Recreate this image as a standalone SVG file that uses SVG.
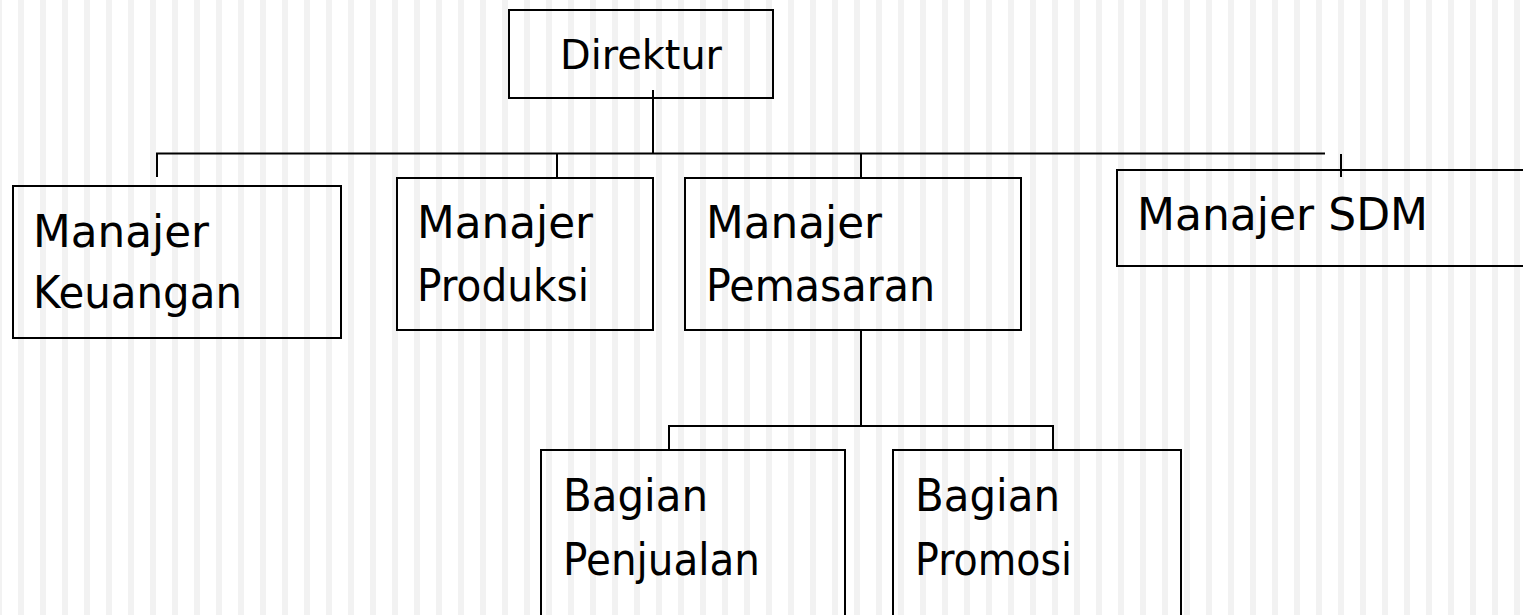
<svg xmlns="http://www.w3.org/2000/svg" width="1523" height="615" viewBox="0 0 1523 615">
<defs>
<pattern id="stripes" x="-4" y="0" width="22" height="615" patternUnits="userSpaceOnUse">
<rect x="0" y="0" width="22" height="615" fill="#ffffff"/>
<rect x="0" y="0" width="6" height="615" fill="#f2f2f2"/>
</pattern>
</defs>
<style>
.box{fill:none;stroke:#000;stroke-width:2}
.lbl{font-family:"DejaVu Sans","Liberation Sans",sans-serif;font-size:44px;fill:#000}
.conn line{stroke:#000;stroke-width:2}
</style>
<rect x="0" y="0" width="1523" height="615" fill="url(#stripes)"/>
<g id="connectors" class="conn">
<line x1="653" y1="90" x2="653" y2="154"/>
<line x1="156" y1="153.5" x2="1325" y2="153.5"/>
<line x1="157" y1="153" x2="157" y2="177"/>
<line x1="557" y1="153" x2="557" y2="178"/>
<line x1="861" y1="153" x2="861" y2="178"/>
<line x1="1341" y1="154" x2="1341" y2="177"/>
<line x1="861" y1="330" x2="861" y2="427"/>
<line x1="668" y1="426" x2="1054" y2="426"/>
<line x1="669" y1="426" x2="669" y2="450"/>
<line x1="1053" y1="426" x2="1053" y2="450"/>
</g>
<g id="direktur">
<rect class="box" x="509" y="10" width="264" height="88"/>
<text class="lbl" x="560" y="69" style="font-size:41px" textLength="162" lengthAdjust="spacingAndGlyphs">Direktur</text>
</g>
<g id="manajer-keuangan">
<rect class="box" x="13" y="186" width="328" height="152"/>
<text class="lbl" x="33" y="247" textLength="176" lengthAdjust="spacingAndGlyphs">Manajer</text>
<text class="lbl" x="33" y="308" textLength="209" lengthAdjust="spacingAndGlyphs">Keuangan</text>
</g>
<g id="manajer-produksi">
<rect class="box" x="397" y="178" width="256" height="152"/>
<text class="lbl" x="417" y="238" textLength="176" lengthAdjust="spacingAndGlyphs">Manajer</text>
<text class="lbl" x="417" y="301" textLength="172" lengthAdjust="spacingAndGlyphs">Produksi</text>
</g>
<g id="manajer-pemasaran">
<rect class="box" x="685" y="178" width="336" height="152"/>
<text class="lbl" x="706" y="238" textLength="176" lengthAdjust="spacingAndGlyphs">Manajer</text>
<text class="lbl" x="706" y="301" textLength="229" lengthAdjust="spacingAndGlyphs">Pemasaran</text>
</g>
<g id="manajer-sdm">
<rect class="box" x="1117" y="170" width="420" height="96"/>
<text class="lbl" x="1137" y="230" textLength="291" lengthAdjust="spacingAndGlyphs">Manajer SDM</text>
</g>
<g id="bagian-penjualan">
<rect class="box" x="541" y="450" width="304" height="180"/>
<text class="lbl" x="563" y="511" textLength="145" lengthAdjust="spacingAndGlyphs">Bagian</text>
<text class="lbl" x="563" y="575" textLength="197" lengthAdjust="spacingAndGlyphs">Penjualan</text>
</g>
<g id="bagian-promosi">
<rect class="box" x="893" y="450" width="288" height="180"/>
<text class="lbl" x="915" y="511" textLength="145" lengthAdjust="spacingAndGlyphs">Bagian</text>
<text class="lbl" x="915" y="575" textLength="157" lengthAdjust="spacingAndGlyphs">Promosi</text>
</g>
</svg>
